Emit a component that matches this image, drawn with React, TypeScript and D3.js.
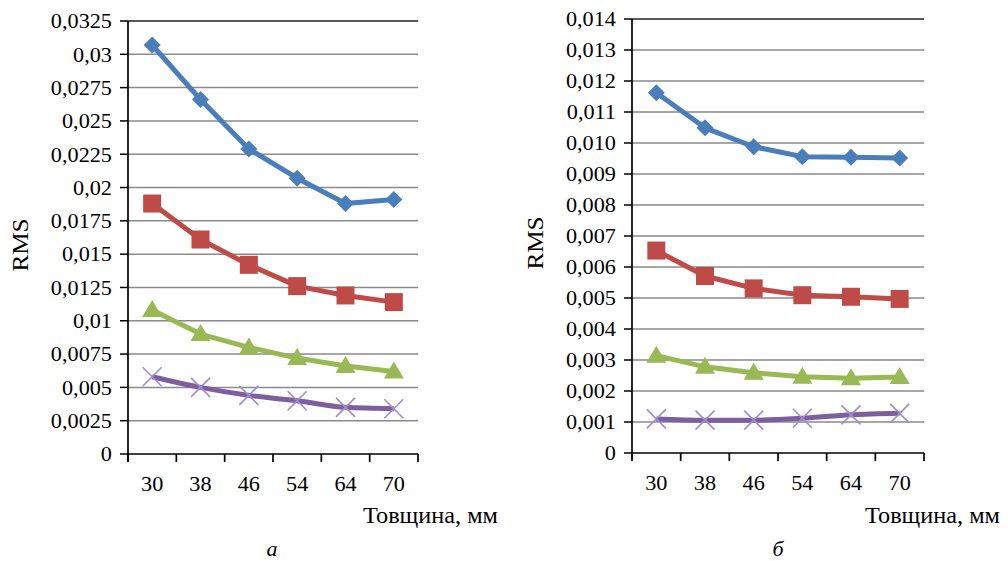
import React from "react";
import * as d3 from "d3";

const categories = ["30", "38", "46", "54", "64", "70"];

const leftBlue = [0.0307, 0.0266, 0.0229, 0.0207, 0.0188, 0.0191];
const leftRed = [0.0188, 0.0161, 0.0142, 0.0126, 0.0119, 0.0114];
const leftGreen = [0.0108, 0.009, 0.008, 0.0072, 0.0066, 0.0062];
const leftPurple = [0.0058, 0.0050, 0.0044, 0.0040, 0.0035, 0.0034];
const leftTicks = [0, 0.0025, 0.005, 0.0075, 0.01, 0.0125, 0.015, 0.0175, 0.02, 0.0225, 0.025, 0.0275, 0.03, 0.0325];
const leftTickLabels = ["0", "0,0025", "0,005", "0,0075", "0,01", "0,0125", "0,015", "0,0175", "0,02", "0,0225", "0,025", "0,0275", "0,03", "0,0325"];

const rightBlue = [0.01162, 0.01049, 0.00988, 0.00956, 0.00954, 0.00952];
const rightRed = [0.00653, 0.00571, 0.00531, 0.00509, 0.00504, 0.00497];
const rightGreen = [0.00314, 0.00278, 0.00259, 0.00246, 0.00241, 0.00245];
const rightPurple = [0.0011, 0.00106, 0.00106, 0.00112, 0.00123, 0.00128];
const rightTicks = [0, 0.001, 0.002, 0.003, 0.004, 0.005, 0.006, 0.007, 0.008, 0.009, 0.01, 0.011, 0.012, 0.013, 0.014];
const rightTickLabels = ["0", "0,001", "0,002", "0,003", "0,004", "0,005", "0,006", "0,007", "0,008", "0,009", "0,010", "0,011", "0,012", "0,013", "0,014"];

const xTitle = "Товщина, мм";
const yTitle = "RMS";

const FONT = "'Liberation Serif', 'Times New Roman', Times, serif";
const COLORS = { blue: "#4A7EBB", red: "#BE4B48", green: "#98B954", purple: "#7D5FA0", purpleMarker: "#A08CD0" };

type Panel = {
  left: number; right: number; top: number; bottom: number; max: number;
  ticks: number[]; tickLabels: string[];
  series: { values: number[]; color: string; marker: string; smooth?: boolean }[];
  xTitleX: number; rmsX: number; rmsY: number; letter: string; letterX: number;
};

const panels: Panel[] = [
  {
    left: 128, right: 418, top: 21, bottom: 454, max: 0.0325,
    ticks: leftTicks, tickLabels: leftTickLabels,
    series: [
      { values: leftBlue, color: COLORS.blue, marker: "diamond" },
      { values: leftRed, color: COLORS.red, marker: "square" },
      { values: leftGreen, color: COLORS.green, marker: "triangle" },
      { values: leftPurple, color: COLORS.purple, marker: "x", smooth: true },
    ],
    xTitleX: 363, rmsX: 20, rmsY: 245, letter: "а", letterX: 272,
  },
  {
    left: 632, right: 924, top: 19, bottom: 453, max: 0.014,
    ticks: rightTicks, tickLabels: rightTickLabels,
    series: [
      { values: rightBlue, color: COLORS.blue, marker: "diamond" },
      { values: rightRed, color: COLORS.red, marker: "square" },
      { values: rightGreen, color: COLORS.green, marker: "triangle" },
      { values: rightPurple, color: COLORS.purple, marker: "x", smooth: true },
    ],
    xTitleX: 865, rmsX: 535, rmsY: 243, letter: "б", letterX: 778,
  },
];

function Marker({ type, x, y, color }: { type: string; x: number; y: number; color: string }) {
  if (type === "diamond") {
    const s = 8.5;
    return <path d={`M${x},${y - s}L${x + s},${y}L${x},${y + s}L${x - s},${y}Z`} fill={color} />;
  }
  if (type === "square") {
    const s = 9;
    return <rect x={x - s} y={y - s} width={2 * s} height={2 * s} fill={color} />;
  }
  if (type === "triangle") {
    const s = 10;
    return <path d={`M${x},${y - 10}L${x + s},${y + 7}L${x - s},${y + 7}Z`} fill={color} />;
  }
  const s = 9.5;
  return (
    <g stroke={COLORS.purpleMarker} strokeWidth={1.6}>
      <line x1={x - s} y1={y - s} x2={x + s} y2={y + s} />
      <line x1={x - s} y1={y + s} x2={x + s} y2={y - s} />
    </g>
  );
}

function sx(x: number, k: number) {
  return `translate(${x},0) scale(${k},1) translate(${-x},0)`;
}

function ChartPanel({ p }: { p: Panel }) {
  const x = d3.scaleBand<string>().domain(categories).range([p.left, p.right]);
  const y = d3.scaleLinear().domain([0, p.max]).range([p.bottom, p.top]);
  const cx = (c: string) => (x(c) as number) + x.bandwidth() / 2;
  const boundaries = categories.map((c) => x(c) as number).concat([p.right]);
  return (
    <g>
      {p.ticks.map((t, i) => (
        <g key={i}>
          {i > 0 && (
            <line x1={p.left} x2={p.right} y1={y(t)} y2={y(t)}
              stroke={i === p.ticks.length - 1 ? "#222" : "#8a8a8a"} strokeWidth={1.5} />
          )}
          <line x1={p.left - 8} x2={p.left} y1={y(t)} y2={y(t)} stroke="#000" strokeWidth={1.5} />
          <text x={p.left - 16} y={y(t)} dy="0.35em" textAnchor="end" fontSize={21}
            fontFamily={FONT} transform={sx(p.left - 16, 1.06)}>
            {p.tickLabels[i]}
          </text>
        </g>
      ))}
      <line x1={p.left} x2={p.left} y1={p.top} y2={p.bottom + 8} stroke="#000" strokeWidth={1.7} />
      <line x1={p.left} x2={p.right} y1={p.bottom} y2={p.bottom} stroke="#000" strokeWidth={1.7} />
      {boundaries.map((b, i) => (
        <line key={i} x1={b} x2={b} y1={p.bottom} y2={p.bottom + 8} stroke="#000" strokeWidth={1.7} />
      ))}
      {categories.map((c) => (
        <text key={c} x={cx(c)} y={p.bottom + 30} dy="0.35em" textAnchor="middle" fontSize={21}
          fontFamily={FONT} transform={sx(cx(c), 1.06)}>
          {c}
        </text>
      ))}
      {p.series.map((s, si) => {
        const line = d3.line<number>()
          .x((_, i) => cx(categories[i]))
          .y((v) => y(v))
          .curve(s.smooth ? d3.curveMonotoneX : d3.curveLinear);
        return (
          <g key={si}>
            <path d={line(s.values) || ""} fill="none" stroke={s.color} strokeWidth={5} strokeLinejoin="round" />
            {s.values.map((v, i) => (
              <Marker key={i} type={s.marker} x={cx(categories[i])} y={y(v)} color={s.color} />
            ))}
          </g>
        );
      })}
      <text x={p.xTitleX} y={515} dy="0.35em" fontSize={22.5} fontFamily={FONT}
        transform={sx(p.xTitleX, 1.08)}>{xTitle}</text>
      <text transform={`translate(${p.rmsX},${p.rmsY}) rotate(-90) scale(1.12,1)`} textAnchor="middle" dy="0.35em"
        fontSize={22.5} fontFamily={FONT}>{yTitle}</text>
      <text x={p.letterX} y={548} dy="0.35em" textAnchor="middle" fontSize={22} fontStyle="italic"
        fontFamily={FONT}>{p.letter}</text>
    </g>
  );
}

export default function App() {
  return (
    <svg width={1008} height={561} style={{ position: "absolute", left: 0, top: 0, background: "#fff" }}>
      <rect width={1008} height={561} fill="#fff" />
      {panels.map((p, i) => (
        <ChartPanel key={i} p={p} />
      ))}
    </svg>
  );
}
